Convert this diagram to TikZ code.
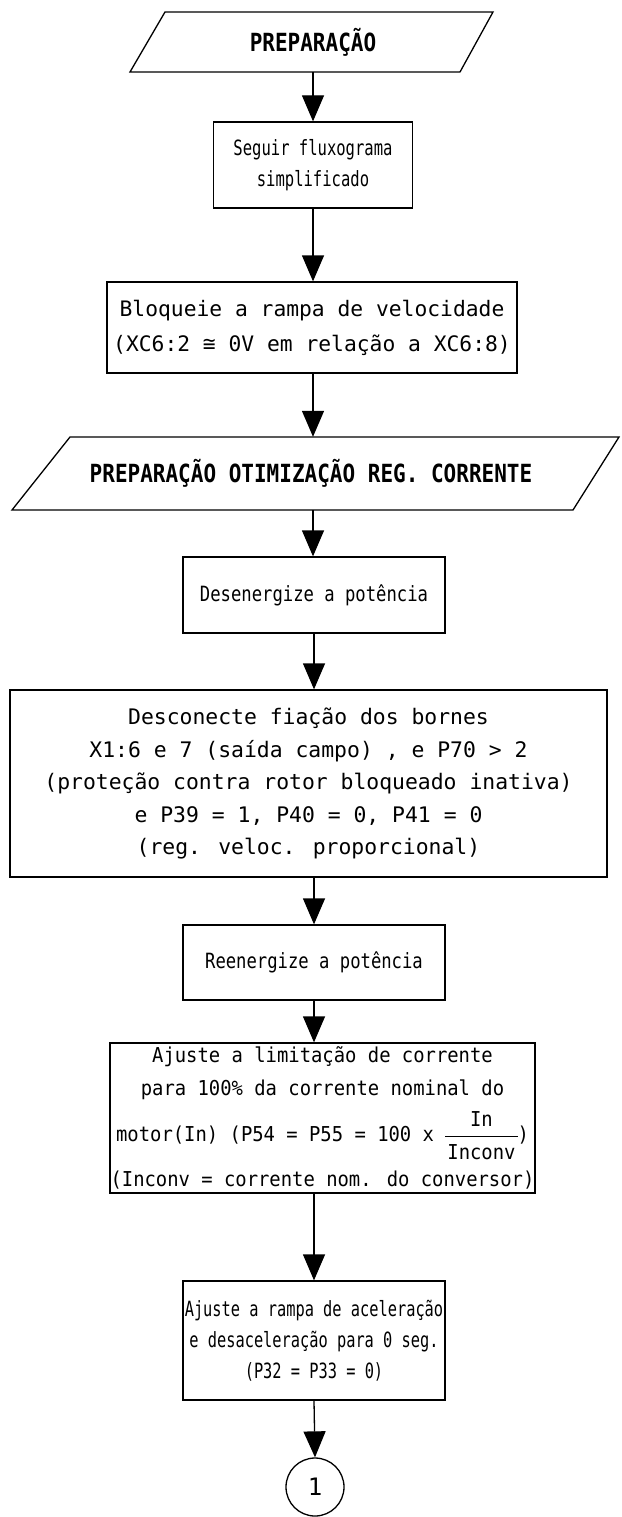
\documentclass[tikz,border=0pt]{standalone}
\usepackage{fontspec}
\setmainfont{DejaVu Sans Mono}
\newfontfamily\fA[FakeStretch=0.74]{DejaVu Sans Mono}
\newfontfamily\fAA[FakeStretch=0.73]{DejaVu Sans Mono}
\newfontfamily\fB[FakeStretch=0.82]{DejaVu Sans Mono}
\newfontfamily\fC[FakeStretch=0.92]{DejaVu Sans Mono}
\newfontfamily\fT[FakeStretch=0.84]{DejaVu Sans Mono}
\usetikzlibrary{arrows.meta}
\newcommand{\myfs}[2]{\fontsize{#1pt}{#2pt}\selectfont}
\begin{document}
\begin{tikzpicture}[x=1pt,y=-1pt,
  box/.style={draw, line width=1.3pt, inner sep=0pt, align=center},
  ttl/.style={inner sep=0pt, align=center, font=\fT\bfseries\myfs{25}{28}},
  shp/.style={draw, line width=1.3pt, line join=miter},
  arr/.style={line width=1.3pt, -{Triangle[width=22pt,length=26pt]}}]
\useasboundingbox (0,0) rectangle (621,1517);

% title 1
\draw[shp] (130,72) -- (165,12) -- (493,12) -- (460,72) -- cycle;
\node[ttl, minimum height=60pt] (p1) at (313,42) {PREPARAÇÃO};

\node[box, minimum width=199pt, minimum height=86pt, font=\fA\myfs{21}{31}] (b2) at (313,165)
  {Seguir fluxograma\\simplificado};

\node[box, minimum width=410pt, minimum height=91pt, font=\myfs{21.3}{35}] (b3) at (312,327.5)
  {Bloqueie a rampa de velocidade\\(XC6:2 ≅ 0V em relação a XC6:8)};

% title 2
\draw[shp] (12,510) -- (70,437) -- (619,437) -- (573,510) -- cycle;
\node[ttl, minimum height=73pt] (p2) at (311,473.5) {PREPARAÇÃO OTIMIZAÇÃO REG. CORRENTE};

\node[box, minimum width=262pt, minimum height=76pt, font=\fB\myfs{21}{30}] (b4) at (314,595)
  {Desenergize a potência};

\node[box, minimum width=597pt, minimum height=187pt, font=\myfs{21.4}{32.5}] (b5) at (308.5,783.5)
  {Desconecte fiação dos bornes\\
   X1:6 e 7 (saída campo) , e P70 > 2\\
   (proteção contra rotor bloqueado inativa)\\
   e P39 = 1, P40 = 0, P41 = 0\\
   (reg. veloc. proporcional)};

\node[box, minimum width=262pt, minimum height=75pt, font=\fB\myfs{21}{30}] (b6) at (314,962.5)
  {Reenergize a potência};

\node[box, minimum width=425pt, minimum height=150pt, font=\fC\myfs{20.5}{33}] (b7) at (322.5,1118)
  {Ajuste a limitação de corrente\\
   para 100\% da corrente nominal do\\[4pt]
   motor(In) (P54 = P55 = 100 x {\setlength{\arrayrulewidth}{1.2pt}\renewcommand{\arraystretch}{0.95}\begin{tabular}{@{\hspace{2pt}}c@{\hspace{2pt}}}In\\\hline Inconv\end{tabular}})\\[2pt]
   (Inconv = corrente nom. do conversor)};

\node[box, minimum width=262pt, minimum height=119pt, font=\fAA\myfs{21}{31}] (b8) at (314,1340.5)
  {Ajuste a rampa de aceleração\\
   e desaceleração para 0 seg.\\
   (P32 = P33 = 0)};

\node[draw, circle, line width=1.3pt, minimum size=58pt, inner sep=0pt, font=\myfs{24}{28}] (c1) at (315,1487) {1};

\draw[arr] (p1.south) -- (p1.south |- b2.north);
\draw[arr] (b2.south) -- (b2.south |- b3.north);
\draw[arr] (b2.south |- b3.south) -- (b2.south |- p2.north);
\draw[arr] (p2.south -| p1.south) -- (p1.south |- b4.north);
\draw[arr] (b4.south) -- (b4.south |- b5.north);
\draw[arr] (b6.north |- b5.south) -- (b6.north);
\draw[arr] (b6.south) -- (b6.south |- b7.north);
\draw[arr] (b8.north |- b7.south) -- (b8.north);
\draw[arr] (b8.south) -- (c1.north);
\end{tikzpicture}
\end{document}
